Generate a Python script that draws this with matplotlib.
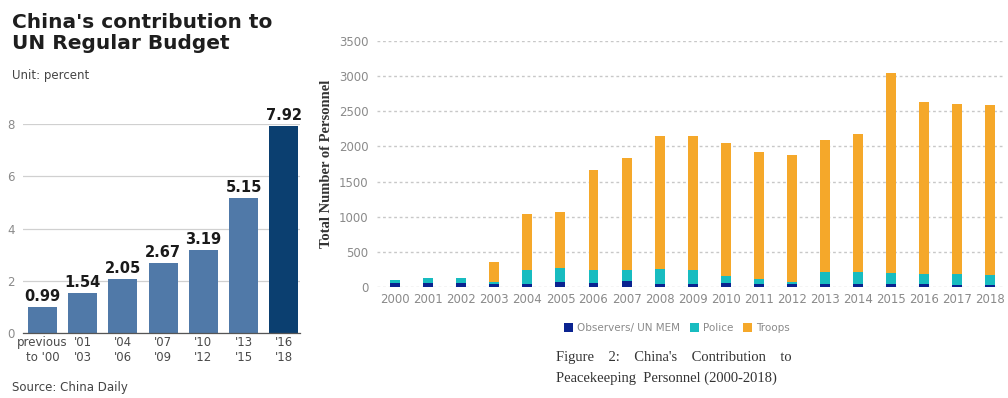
import numpy as np
import matplotlib
matplotlib.use('Agg')
from matplotlib import pyplot as plt

# 左图: 联合国常规预算分摊比例
budget_periods = ["previous\nto '00", "'01\n'03", "'04\n'06", "'07\n'09", "'10\n'12", "'13\n'15", "'16\n'18"]
budget_share = [0.99, 1.54, 2.05, 2.67, 3.19, 5.15, 7.92]

# 右图: 维和人员数量
years = [str(y) for y in range(2000, 2019)]
observers = [53, 60, 60, 48, 48, 70, 62, 80, 48, 48, 57, 48, 48, 38, 38, 38, 38, 35, 30]
police = [45, 73, 64, 22, 200, 200, 186, 168, 209, 200, 95, 62, 28, 171, 171, 167, 143, 146, 141]
troops = [0, 0, 0, 287, 794, 791, 1423, 1585, 1894, 1894, 1890, 1813, 1795, 1876, 1971, 2841, 2456, 2427, 2418]
series_names = ['Observers/ UN MEM', 'Police', 'Troops']

W, H = 1008, 398
fig = plt.figure(figsize=(W / 100, H / 100), dpi=100)


def px_axes(x0, y0, x1, y1):
    # 用像素坐标 (左上角为原点) 建立坐标轴
    return fig.add_axes([x0 / W, 1 - y1 / H, (x1 - x0) / W, (y1 - y0) / H])


# ---------- 左图 ----------
ax1 = px_axes(23, 124, 300, 333)
x = np.arange(len(budget_share))
colors = ['#5079a8'] * (len(budget_share) - 1) + ['#0b3f70']
ax1.bar(x, budget_share, width=0.72, color=colors, zorder=2)
for xi, v in zip(x, budget_share):
    ax1.text(xi, v + 0.12, f'{v:.2f}', ha='center', va='bottom',
             fontsize=10.5, fontweight='bold', color='#1a1a1a')
ax1.set_xlim(-0.48, 6.4)
ax1.set_ylim(0, 8)
ax1.set_yticks([0, 2, 4, 6, 8])
ax1.set_yticklabels(['0', '2', '4', '6', '8'])
ax1.yaxis.grid(True, color='#d0d0d0', linewidth=0.9, zorder=0)
ax1.tick_params(axis='y', length=0, pad=6, labelsize=8.5, labelcolor='#8a8a8a')
ax1.set_xticks(x)
ax1.set_xticklabels(budget_periods, fontsize=8.5, color='#4a4a4a', linespacing=1.25)
ax1.tick_params(axis='x', length=0, pad=2)
for side in ['top', 'right', 'left']:
    ax1.spines[side].set_visible(False)
ax1.spines['bottom'].set_color('#555555')
ax1.spines['bottom'].set_linewidth(0.9)

fig.text(12 / W, 1 - 13 / H, "China's contribution to\nUN Regular Budget",
         fontsize=14.5, fontweight='heavy', color='#1e1e1e', va='top',
         linespacing=1.15)
fig.text(12 / W, 1 - 76 / H, 'Unit: percent', fontsize=8.5, color='#444444', va='center')
fig.text(12 / W, 1 - 388 / H, 'Source: China Daily', fontsize=8.5, color='#444444', va='center')

# ---------- 右图 ----------
ax2 = px_axes(377, 41, 1005, 287)
xr = np.arange(len(years))
colors_r = ['#0a2390', '#18bcc0', '#f5a82a']
bottom = np.zeros(len(years))
for vals, c, name in zip([observers, police, troops], colors_r, series_names):
    ax2.bar(xr, vals, width=0.3, bottom=bottom, color=c, label=name, zorder=2)
    bottom += np.array(vals)
ax2.set_xlim(-0.55, 18.45)
ax2.set_ylim(0, 3500)
ax2.set_yticks(np.arange(0, 3501, 500))
ax2.yaxis.grid(True, color='#c8c8c8', linestyle=(0, (2, 2)), linewidth=1.0, zorder=0)
ax2.tick_params(axis='y', length=0, pad=6, labelsize=8.5, labelcolor='#8a8a8a')
ax2.set_xticks(xr)
ax2.set_xticklabels(years, fontsize=8.5, color='#8a8a8a')
ax2.tick_params(axis='x', length=0, pad=4)
for side in ax2.spines:
    ax2.spines[side].set_visible(False)
ax2.set_ylabel('Total Number of Personnel', family='Liberation Serif', fontweight='bold',
               fontsize=10.5, color='#333333', labelpad=4)

leg = fig.legend(loc='center', bbox_to_anchor=(677 / W, 1 - 328 / H), ncol=3, frameon=False,
                 fontsize=7.5, handlelength=0.9, handleheight=0.9, handletextpad=0.4,
                 columnspacing=0.9)
for t in leg.get_texts():
    t.set_color('#8a8a8a')

fig.text(556 / W, 1 - 358 / H, "Figure    2:    China's    Contribution    to",
         family='Liberation Serif', fontsize=10.5, color='#333333', va='center')
fig.text(556 / W, 1 - 378 / H, 'Peacekeeping  Personnel (2000-2018)',
         family='Liberation Serif', fontsize=10.5, color='#333333', va='center')

fig.savefig('out.png', dpi=100)
